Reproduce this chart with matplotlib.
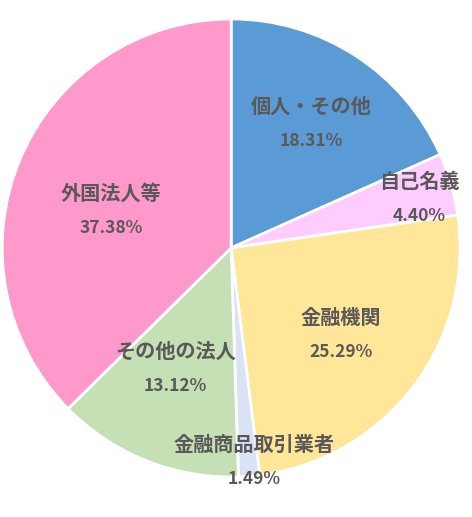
import matplotlib.pyplot as plt
import numpy as np

plt.rcParams['font.family'] = ['Noto Sans CJK JP', 'DejaVu Sans']

# data (clockwise from top)
labels = ['個人・その他', '自己名義', '金融機関', '金融商品取引業者', 'その他の法人', '外国法人等']
shares = [18.31, 4.40, 25.29, 1.49, 13.12, 37.38]
colors = ['#5B9BD5', '#FFCCFF', '#FFE699', '#DAE3F3', '#C5E0B4', '#FF99CC']

# label distance from centre (fraction of radius), Excel "best fit" look
label_r = [0.645, 0.85, 0.61, 0.94, 0.58, 0.55]
label_da = [0, -1.5, -1, 1.5, -3, 5.5]  # small angle nudges, degrees

fig = plt.figure(figsize=(4.72, 5.17), dpi=100)
ax = fig.add_axes([0.0047, 0.0774, 0.970, 0.886])

wedges, _ = ax.pie(shares, colors=colors, startangle=90, counterclock=False,
                   wedgeprops=dict(edgecolor='white', linewidth=2))
ax.set_xlim(-1, 1)
ax.set_ylim(-1, 1)
ax.set_aspect('auto')

txt_color = '#595959'
for w, lab, val, r, da in zip(wedges, labels, shares, label_r, label_da):
    ang = np.deg2rad((w.theta1 + w.theta2) / 2 + da)
    x, y = r * np.cos(ang), r * np.sin(ang)
    ax.text(x, y + 0.03, lab, ha='center', va='bottom', fontsize=14.5,
            fontweight='bold', color=txt_color)
    ax.text(x, y - 0.035, f'{val:.2f}%', ha='center', va='top', fontsize=12.5,
            fontweight='bold', color=txt_color)

fig.savefig('out.png', dpi=100, facecolor='white')
